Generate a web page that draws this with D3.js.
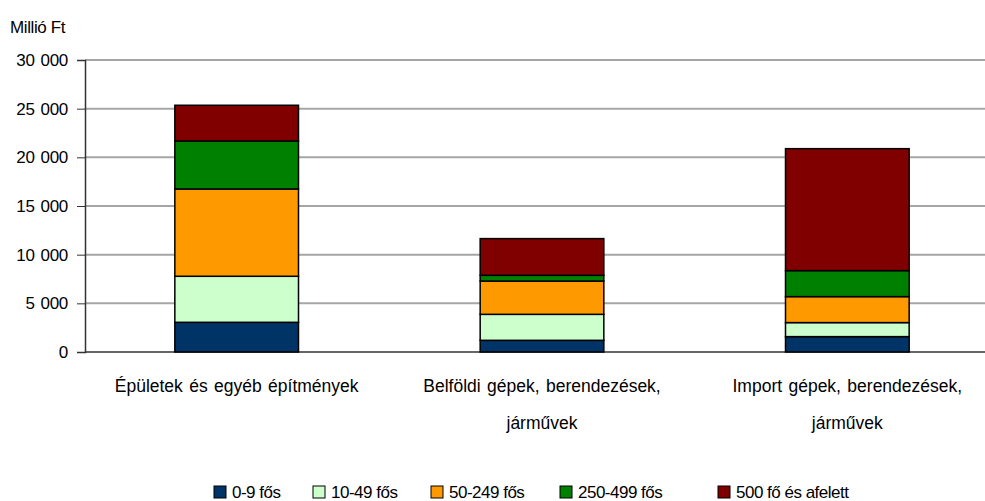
<!DOCTYPE html>
<html>
<head>
<meta charset="utf-8">
<script src="https://cdn.jsdelivr.net/npm/d3@7"></script>
<style>
  body { margin: 0; background: #fff; }
  svg { display: block; font-family: "Liberation Sans", Arial, sans-serif; }
</style>
</head>
<body>
<div id="chart"></div>
<script>

// categories on the x axis (second label line after "|")
var categories = ["Épületek és egyéb építmények", "Belföldi gépek, berendezések,|járművek", "Import gépek, berendezések,|járművek"];

// size groups (stack order, bottom to top)
var groups = ["0-9 fős", "10-49 fős", "50-249 fős", "250-499 fős", "500 fő és afelett"];
var colors = ["#003366", "#ccffcc", "#ff9900", "#008000", "#800000"];

// values in million Ft, one per category
var v0_9     = [3050, 1200, 1580];
var v10_49   = [4730, 2670, 1440];
var v50_249  = [8970, 3420, 2670];
var v250_499 = [4930, 590, 2670];
var v500     = [3670, 3770, 12530];

var yTicks = [0, 5000, 10000, 15000, 20000, 25000, 30000];

var series = [v0_9, v10_49, v50_249, v250_499, v500];

var rows = categories.map(function(c, i) {
    var r = {cat: c};
    groups.forEach(function(g, j) { r[g] = series[j][i]; });
    return r;
});

var W = 985, H = 501;
var margin = {top: 60, left: 85, bottom: 149};
var plotH = H - margin.top - margin.bottom;

var svg = d3.select("#chart").append("svg")
    .attr("width", W)
    .attr("height", H);

var x = d3.scaleBand()
    .domain(categories)
    .range([margin.left - 1, margin.left + 915])
    .paddingInner(0.595)
    .paddingOuter(0.2975);

var y = d3.scaleLinear()
    .domain([0, 30000])
    .range([margin.top + plotH, margin.top]);

var fmt = function(d) { return d3.format(",")(d).replace(/,/g, " "); };

// gridlines
svg.append("g")
    .selectAll("line")
    .data(yTicks.filter(function(d) { return d > 0; }))
    .enter().append("line")
    .attr("x1", margin.left)
    .attr("x2", W)
    .attr("y1", function(d) { return y(d); })
    .attr("y2", function(d) { return y(d); })
    .attr("stroke", "#a6a6a6")
    .attr("stroke-width", 2);

// y axis
var yAxis = d3.axisLeft(y)
    .tickValues(yTicks)
    .tickFormat(fmt)
    .tickSize(8)
    .tickPadding(9);

var gy = svg.append("g")
    .attr("transform", "translate(" + margin.left + ",0)")
    .call(yAxis);
gy.select(".domain").attr("stroke", "#333").attr("stroke-width", 1.5);
gy.selectAll(".tick line").attr("stroke", "#333");
gy.selectAll(".tick text")
    .style("font-size", "17px")
    .style("letter-spacing", "-0.3px")
    .style("word-spacing", "1.5px")
    .attr("fill", "#000");

// x baseline
svg.append("line")
    .attr("x1", margin.left)
    .attr("x2", W)
    .attr("y1", y(0))
    .attr("y2", y(0))
    .attr("stroke", "#333")
    .attr("stroke-width", 1.5);

// stacked bars
var stack = d3.stack().keys(groups);
var stacked = stack(rows);

svg.append("g")
    .selectAll("g")
    .data(stacked)
    .enter().append("g")
    .attr("fill", function(d, i) { return colors[i]; })
    .selectAll("rect")
    .data(function(d) { return d; })
    .enter().append("rect")
    .attr("x", function(d) { return x(d.data.cat); })
    .attr("width", x.bandwidth())
    .attr("y", function(d) { return y(d[1]); })
    .attr("height", function(d) { return y(d[0]) - y(d[1]); })
    .attr("stroke", "#000")
    .attr("stroke-width", 1.5);

// unit label
svg.append("text")
    .attr("x", 10)
    .attr("y", 33)
    .style("font-size", "17px")
    .style("letter-spacing", "-0.4px")
    .text("Millió Ft");

// category labels
var catG = svg.append("g")
    .selectAll("text")
    .data(categories)
    .enter().append("text")
    .attr("text-anchor", "middle")
    .style("font-size", "17.5px")
    .style("word-spacing", "1.5px")
    .attr("x", function(d) { return x(d) + x.bandwidth() / 2; })
    .attr("y", 392);

catG.selectAll("tspan")
    .data(function(d) { return d.split("|"); })
    .enter().append("tspan")
    .attr("x", function() { var p = this.parentNode; return d3.select(p).attr("x"); })
    .attr("dy", function(d, i) { return i === 0 ? 0 : 37; })
    .text(function(d) { return d; });

// legend
var legendX = [214, 313, 431, 560, 718];
var lg = svg.append("g")
    .selectAll("g")
    .data(groups)
    .enter().append("g")
    .attr("transform", function(d, i) { return "translate(" + legendX[i] + ",486)"; });

lg.append("rect")
    .attr("width", 12)
    .attr("height", 12)
    .attr("fill", function(d, i) { return colors[i]; })
    .attr("stroke", "#000")
    .attr("stroke-width", 1);

lg.append("text")
    .attr("x", 18)
    .attr("y", 12)
    .style("font-size", "17px")
    .style("letter-spacing", "-0.5px")
    .text(function(d) { return d; });

</script>
</body>
</html>
